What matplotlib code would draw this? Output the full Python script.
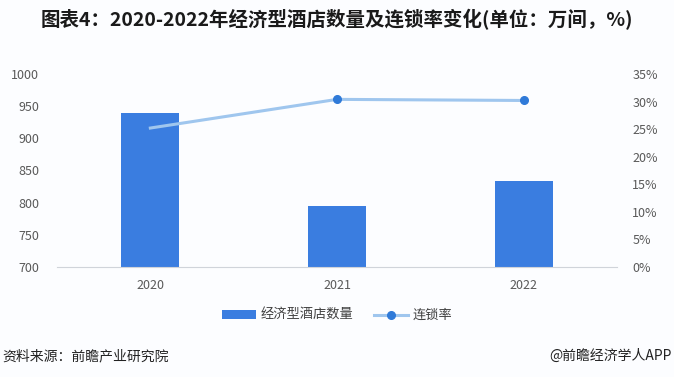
import matplotlib
matplotlib.use('Agg')
import matplotlib.pyplot as plt
import numpy as np

plt.rcParams['font.family'] = ['Noto Sans CJK SC', 'DejaVu Sans']
plt.rcParams['axes.unicode_minus'] = False

# 数据
years = ['2020', '2021', '2022']
hotels = [940, 795, 834]          # 经济型酒店数量(万间)
chain_rate = [25.2, 30.4, 30.2]   # 连锁率(%)

bar_color = '#3a7de0'
line_color = '#9fc6ee'
dot_color = '#2f7ad8'
tick_color = '#595959'
bg = '#fcfdff'

fig = plt.figure(figsize=(6.74, 3.77), dpi=100, facecolor=bg)
ax = fig.add_axes([0.0846, 0.2918, 0.8308, 0.5119])
ax.set_facecolor('none')

x = np.arange(len(years))
ax.bar(x, hotels, width=0.31, color=bar_color, zorder=2, label='经济型酒店数量')
ax.set_xlim(-0.5, 2.5)
ax.set_ylim(700, 1000)
ax.set_yticks(range(700, 1001, 50))
ax.set_xticks(x)
ax.set_xticklabels(years)

# 连锁率 (右轴)
ax2 = ax.twinx()
ax2.plot(x, chain_rate, color=line_color, linewidth=2.2, zorder=3,
         marker='o', markersize=5.5, markerfacecolor=dot_color,
         markeredgecolor=dot_color, markevery=[1, 2], label='连锁率')
ax2.set_ylim(0, 35)
ax2.set_yticks(range(0, 36, 5))
ax2.set_yticklabels([f'{v}%' for v in range(0, 36, 5)])

for a in (ax, ax2):
    for s in a.spines.values():
        s.set_visible(False)
    a.tick_params(length=0, labelsize=9, colors=tick_color)
ax.spines['bottom'].set_visible(True)
ax.spines['bottom'].set_color('#d0d4da')
ax.spines['bottom'].set_linewidth(0.8)
ax.tick_params(axis='x', pad=9)
ax.tick_params(axis='y', pad=13)
ax2.tick_params(axis='y', pad=11)

# 图例
h1, l1 = ax.get_legend_handles_labels()
h2, l2 = ax2.get_legend_handles_labels()
fig.legend(h1 + h2, l1 + l2, loc='center', bbox_to_anchor=(0.5, 0.163),
           ncol=2, frameon=False, fontsize=9.5, handlelength=2.6,
           handleheight=0.6, columnspacing=1.6, handletextpad=0.3,
           labelcolor='#404040')

# 标题和来源
fig.text(0.5, 0.947, '图表4：2020-2022年经济型酒店数量及连锁率变化(单位：万间，%)',
         ha='center', va='center', fontsize=14, fontweight='bold', color='#1a1a1a')
fig.text(0.004, 0.055, '资料来源：前瞻产业研究院', ha='left', va='center',
         fontsize=10, color='#222222')
fig.text(0.997, 0.055, '@前瞻经济学人APP', ha='right', va='center',
         fontsize=10, color='#222222')

plt.savefig('out.png', dpi=100, facecolor=bg)
plt.close(fig)
